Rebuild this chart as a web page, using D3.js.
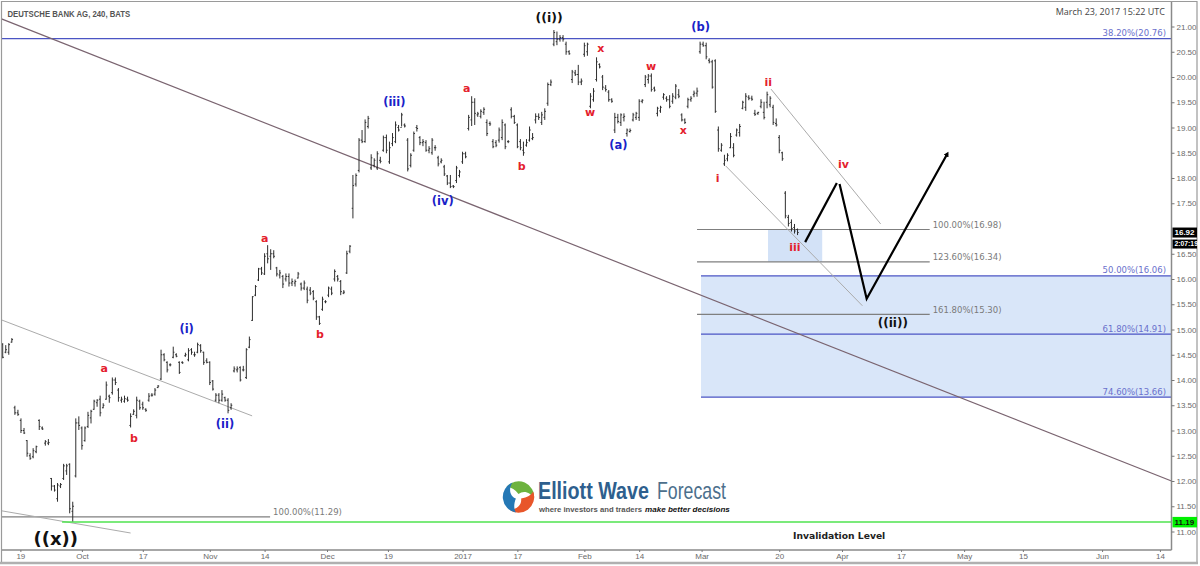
<!DOCTYPE html>
<html>
<head>
<meta charset="utf-8">
<script src="https://cdnjs.cloudflare.com/ajax/libs/d3/7.8.5/d3.min.js"></script>
<style>
    html, body { margin: 0; padding: 0; background: #fff; overflow: hidden; }
    svg { display: block; }
    .axis text { font-family: "Liberation Sans", sans-serif; font-size: 8px; fill: #6a6a6a; }
    .axis line { stroke: #777; }
    .axis path { stroke: #8a8a8a; stroke-width: 1.5px; }
</style>
</head>
<body>
<svg width="1200" height="566"></svg>
<script>
// 240 minute bars, one entry per bar
var highs = [
    14.73,14.69,14.73,14.83,13.49,13.41,13.24,13.05,12.81,12.55,
    12.65,12.70,13.22,13.08,12.81,12.83,12.06,11.92,11.96,11.96,
    12.34,12.34,12.35,11.59,13.24,13.28,13.08,13.08,13.37,13.41,
    13.61,13.62,13.69,13.54,13.97,13.71,14.05,14.05,13.84,13.67,
    13.69,13.67,13.34,13.42,13.67,13.61,13.57,13.44,13.74,13.74,
    13.84,13.90,14.60,14.53,14.37,14.33,14.66,14.53,14.37,14.37,
    14.54,14.63,14.63,14.56,14.74,14.71,14.56,14.43,14.37,14.00,
    13.74,13.74,13.80,13.67,13.64,13.54,14.27,14.27,14.27,14.28,
    14.63,14.86,15.66,15.88,16.22,16.24,16.51,16.67,16.59,16.57,
    16.24,16.18,16.08,16.11,16.11,16.01,15.99,16.14,15.93,15.97,
    15.85,15.84,15.78,15.58,15.27,15.65,15.58,15.85,15.85,16.19,
    16.08,15.98,15.78,16.56,16.67,18.06,18.09,18.79,18.95,19.16,
    19.23,18.47,18.39,18.53,18.42,18.84,18.86,18.72,18.89,19.12,
    19.05,19.29,19.08,18.79,18.49,18.92,19.05,18.83,18.77,18.75,
    18.63,18.79,18.65,18.44,18.39,18.26,18.06,18.06,17.86,18.24,
    18.16,18.52,18.52,19.25,19.62,19.58,19.31,19.36,19.40,19.16,
    19.12,18.77,18.75,19.00,19.16,19.08,18.75,19.40,19.25,19.08,
    18.77,18.72,18.77,19.02,18.89,19.28,19.28,19.31,19.38,19.89,
    19.95,20.93,20.90,20.83,20.83,20.70,20.53,20.14,20.14,20.24,
    19.97,20.68,20.68,19.68,19.78,20.39,20.27,20.04,19.84,19.74,
    19.58,19.29,19.27,19.28,19.28,18.98,18.98,19.29,19.31,19.56,
    19.56,20.04,20.06,20.07,19.81,19.41,19.43,19.68,19.62,19.64,
    19.68,19.86,19.76,19.28,19.18,19.59,19.62,19.73,19.79,20.70,
    20.70,20.68,20.37,20.34,20.35,19.02,18.69,18.46,18.49,18.89,
    18.69,18.98,19.07,19.53,19.68,19.64,19.63,19.35,19.31,19.56,
    19.51,19.71,19.62,19.45,19.18,18.85,18.52,17.74,17.27,17.18,
    17.09,17.00
];
var lows = [
    14.43,14.53,14.50,14.74,13.31,13.29,12.95,12.93,12.48,12.42,
    12.45,12.55,13.01,13.01,12.70,12.71,11.81,11.79,11.59,11.86,
    12.02,12.12,11.36,11.20,12.07,13.01,12.62,12.78,13.05,13.14,
    13.41,13.47,13.28,13.44,13.61,13.55,13.71,13.90,13.57,13.55,
    13.55,13.57,13.06,13.31,13.24,13.41,13.41,13.37,13.57,13.67,
    13.69,13.84,14.00,14.37,14.15,14.27,14.43,14.45,14.12,14.32,
    14.46,14.37,14.50,14.46,14.53,14.54,14.30,14.33,13.90,13.79,
    13.57,13.54,13.57,13.57,13.34,13.41,14.15,14.15,13.97,14.17,
    14.02,14.63,15.17,15.66,15.96,16.08,16.08,16.31,16.18,16.41,
    16.05,16.01,15.82,15.95,15.85,15.86,15.85,16.01,15.77,15.78,
    15.52,15.68,15.58,15.19,15.09,15.37,15.52,15.64,15.68,15.95,
    15.95,15.68,15.70,16.10,16.51,17.20,17.83,18.11,18.69,18.70,
    18.98,18.16,18.21,18.16,18.29,18.52,18.49,18.28,18.63,18.69,
    18.92,19.02,19.00,18.13,18.21,18.52,18.92,18.65,18.63,18.52,
    18.49,18.46,18.54,18.23,18.29,18.04,17.86,17.80,17.80,17.90,
    18.01,18.28,18.39,18.94,19.03,19.05,19.21,19.18,19.25,18.83,
    19.03,18.59,18.61,18.70,18.75,18.57,18.69,19.18,19.07,18.59,
    18.55,18.44,18.62,18.72,18.75,19.08,19.15,19.05,19.15,19.43,
    19.82,20.61,20.63,20.70,20.70,20.44,20.44,19.88,20.02,19.84,
    19.84,20.40,20.42,19.38,19.51,19.91,20.17,19.74,19.71,19.51,
    19.49,18.89,19.08,19.03,19.12,18.82,18.90,19.12,19.15,19.13,
    19.48,19.80,19.87,19.71,19.71,19.22,19.29,19.55,19.51,19.38,
    19.47,19.56,19.58,19.12,19.07,19.38,19.51,19.60,19.61,20.46,
    20.60,20.35,20.27,19.77,19.29,18.52,18.52,18.24,18.33,18.59,
    18.41,18.82,18.82,19.36,19.33,19.54,19.53,19.23,19.25,19.38,
    19.16,19.38,19.40,19.05,19.02,18.49,18.34,17.20,17.04,16.94,
    16.90,16.87
];
var opens = [
    14.70,14.55,14.55,14.75,13.45,13.35,13.20,13.00,12.80,12.50,
    12.48,12.58,13.20,13.05,12.75,12.75,12.05,11.90,11.65,11.90,
    12.05,12.20,12.33,11.40,12.10,13.15,13.05,12.80,13.08,13.25,
    13.42,13.55,13.62,13.45,13.62,13.68,13.75,14.00,13.80,13.60,
    13.58,13.62,13.10,13.32,13.30,13.58,13.52,13.42,13.60,13.70,
    13.72,13.85,14.02,14.50,14.35,14.30,14.45,14.50,14.35,14.35,
    14.48,14.40,14.60,14.50,14.55,14.68,14.55,14.38,14.35,13.98,
    13.60,13.70,13.60,13.65,13.60,13.45,14.18,14.20,14.25,14.20,
    14.05,14.65,15.18,15.68,15.98,16.20,16.10,16.50,16.45,16.50,
    16.22,16.08,16.05,16.00,16.05,15.92,15.92,16.02,15.90,15.82,
    15.80,15.78,15.75,15.55,15.25,15.40,15.55,15.68,15.80,16.00,
    16.05,15.95,15.72,16.12,16.55,17.40,17.88,18.15,18.75,18.72,
    19.02,18.20,18.25,18.20,18.35,18.55,18.80,18.32,18.68,18.72,
    19.00,19.00,19.05,18.75,18.25,18.55,19.00,18.80,18.70,18.70,
    18.55,18.50,18.60,18.40,18.32,18.22,18.04,17.90,17.84,17.95,
    18.05,18.32,18.48,18.98,19.15,19.50,19.25,19.22,19.30,19.10,
    19.08,18.72,18.70,18.75,18.80,19.05,18.72,19.35,19.22,19.05,
    18.72,18.55,18.65,18.75,18.78,19.15,19.22,19.10,19.20,19.48,
    19.85,20.65,20.70,20.75,20.78,20.65,20.50,19.95,20.08,20.05,
    19.90,20.45,20.50,19.42,19.55,19.95,20.25,20.00,19.78,19.70,
    19.55,18.95,19.20,19.10,19.20,18.88,18.92,19.15,19.20,19.20,
    19.52,19.85,19.95,20.02,19.78,19.28,19.33,19.60,19.58,19.55,
    19.52,19.60,19.65,19.25,19.15,19.42,19.55,19.65,19.68,20.50,
    20.65,20.62,20.33,20.30,20.32,18.95,18.55,18.28,18.38,18.60,
    18.60,18.85,18.90,19.38,19.40,19.60,19.58,19.28,19.28,19.42,
    19.30,19.50,19.45,19.40,19.08,18.80,18.50,17.70,17.22,17.12,
    17.02,16.98
];
var closes = [
    14.45,14.60,14.70,14.80,13.35,13.32,13.00,12.95,12.55,12.45,
    12.60,12.68,13.08,13.03,12.78,12.76,11.90,11.82,11.92,11.93,
    12.30,12.30,11.45,11.50,13.15,13.10,12.70,13.05,13.30,13.38,
    13.58,13.60,13.35,13.50,13.90,13.65,14.00,13.95,13.65,13.62,
    13.63,13.60,13.28,13.38,13.60,13.45,13.45,13.40,13.68,13.70,
    13.80,13.88,14.50,14.40,14.20,14.30,14.55,14.47,14.15,14.34,
    14.50,14.58,14.55,14.50,14.70,14.58,14.35,14.35,13.95,13.82,
    13.70,13.60,13.72,13.60,13.40,13.50,14.22,14.22,14.00,14.20,
    14.60,14.80,15.65,15.85,16.20,16.12,16.45,16.40,16.50,16.45,
    16.10,16.12,15.90,16.05,15.92,15.95,15.95,16.10,15.82,15.92,
    15.58,15.72,15.62,15.25,15.12,15.60,15.55,15.82,15.72,16.15,
    16.00,15.75,15.74,16.50,16.65,17.85,18.05,18.75,18.72,19.10,
    19.18,18.40,18.35,18.48,18.33,18.80,18.55,18.60,18.80,19.05,
    18.95,19.25,19.03,18.18,18.45,18.88,18.98,18.70,18.72,18.55,
    18.58,18.75,18.60,18.28,18.35,18.08,17.90,17.83,17.83,18.20,
    18.12,18.48,18.42,19.20,19.50,19.28,19.27,19.32,19.36,18.88,
    19.07,18.62,18.65,18.95,19.10,18.62,18.72,19.22,19.10,18.62,
    18.60,18.50,18.70,18.95,18.80,19.22,19.20,19.25,19.32,19.85,
    19.90,20.88,20.75,20.78,20.75,20.50,20.46,20.10,20.05,19.90,
    19.92,20.62,20.65,19.62,19.72,20.30,20.20,19.80,19.75,19.55,
    19.52,19.20,19.12,19.25,19.22,18.95,18.94,19.25,19.28,19.52,
    19.54,20.00,20.02,19.75,19.74,19.38,19.40,19.65,19.55,19.42,
    19.62,19.82,19.62,19.15,19.10,19.55,19.58,19.68,19.72,20.65,
    20.62,20.40,20.30,19.80,19.32,18.58,18.65,18.35,18.45,18.82,
    18.45,18.95,19.02,19.50,19.62,19.58,19.56,19.26,19.30,19.50,
    19.20,19.65,19.58,19.10,19.05,18.55,18.38,17.25,17.10,17.00,
    16.95,16.92
];

// y axis and time axis labels (17.00 sits behind the last price tag)
var priceTicks = [11,11.5,12,12.5,13,13.5,14,14.5,15,15.5,16,16.5,17.5,18,18.5,19,19.5,20,20.5,21];
var timeTickBars = [5.8,26,46,68,86,106.5,126.5,151,169,191,209,229.5,255,275.6,295,315.7,335,361,380];
var timeTickLabels = ["19","Oct","17","Nov","14","Dec","19","2017","17","Feb","14","Mar","20","Apr","17","May","15","Jun","14"];

// price levels: [label, price, first bar]
var blueLevels = [["38.20%(20.76)",20.76,-0.4],["50.00%(16.06)",16.06,229.3],["61.80%(14.91)",14.91,229.3],["74.60%(13.66)",13.66,229.3]];
var grayLevels = [["100.00%(16.98)",16.98,228,304.4],["123.60%(16.34)",16.34,228,304.4],["161.80%(15.30)",15.30,228,304.4],["100.00%(11.29)",11.29,-0.4,87.8]];
var invalidationPrice = 11.19;

// trend lines as [bar, price, bar, price]
var mainTrend = [-0.4,21.15,383.8,12.0];
var thinTrends = [[-0.4,15.19,81.9,13.29],[-0.4,11.41,42,10.97],[252.3,19.76,288.3,17.09],[237.4,18.24,282.3,15.47]];
var pathA = [[263.5,16.73],[273.9,17.90]];
var pathB = [[274.8,17.88],[283.7,15.61],[310.2,18.48]];

// wave labels [text, bar, price]
var redLabels = [["a",33.3,14.23],["b",43.1,12.85],["a",86,16.81],["b",104.2,14.90],["a",152.4,19.78],["b",170.4,18.24],["w",192.9,19.31],["x",196.4,20.57],["w",212.9,20.22],["x",223.5,18.94],["i",234.8,17.99],["ii",251.4,19.90],["iii",260.1,16.63],["iv",276.1,18.28]];
var blueLabels = [["(i)",60.4,15.01],["(ii)",73,13.13],["(iii)",128.6,19.51],["(iv)",144.5,17.54],["(a)",202.2,18.65],["(b)",229.2,21.0]];
var blackLabels = [["((i))",179.4,21.17,12.5],["((ii))",292.3,15.13,12],["((x))",17.4,10.85,18]];

var svg = d3.select("svg"),
    plotRight = 1171.5,
    plotBottom = 550,
    g = svg.append("g");

var x = d3.scaleLinear().domain([0, 383.8]).range([2.7, plotRight]);
var y = d3.scaleLinear().domain([11, 21]).range([531.5, 26.5]);

var line = d3.line()
    .x(function (d) { return x(d[0]); })
    .y(function (d) { return y(d[1]); });

// target zones
g.append("rect")
    .attr("x", x(229.3))
    .attr("y", y(16.06))
    .attr("width", plotRight - x(229.3))
    .attr("height", y(13.66) - y(16.06))
    .attr("fill", "#d9e6f9");
g.append("rect")
    .attr("x", x(251.3))
    .attr("y", y(16.98))
    .attr("width", x(269.1) - x(251.3))
    .attr("height", y(16.34) - y(16.98))
    .attr("fill", "#d3e2f7");

// gray fib levels
g.selectAll(".gray-level")
    .data(grayLevels)
    .enter().append("line")
    .attr("class", "gray-level")
    .attr("x1", function (d) { return x(d[2]); })
    .attr("x2", function (d) { return x(d[3]); })
    .attr("y1", function (d) { return y(d[1]); })
    .attr("y2", function (d) { return y(d[1]); })
    .attr("stroke", "#7f7f7f")
    .attr("stroke-width", 1.2);
g.selectAll(".gray-text")
    .data(grayLevels)
    .enter().append("text")
    .attr("x", function (d) { return x(d[3]) + 3; })
    .attr("y", function (d) { return y(d[1]) - 1.5; })
    .attr("font-family", "DejaVu Sans")
    .attr("font-size", 8.5)
    .attr("fill", "#7a7a7a")
    .text(function (d) { return d[0]; });

// blue fib levels
g.selectAll(".blue-level")
    .data(blueLevels)
    .enter().append("line")
    .attr("class", "blue-level")
    .attr("x1", function (d) { return x(d[2]); })
    .attr("x2", plotRight)
    .attr("y1", function (d) { return y(d[1]); })
    .attr("y2", function (d) { return y(d[1]); })
    .attr("stroke", "#4b55c4")
    .attr("stroke-width", 1.2);
g.selectAll(".blue-text")
    .data(blueLevels)
    .enter().append("text")
    .attr("x", plotRight - 5.5)
    .attr("y", function (d) { return y(d[1]) - 2.5; })
    .attr("text-anchor", "end")
    .attr("font-family", "DejaVu Sans")
    .attr("font-size", 8.5)
    .attr("fill", "#6a70cc")
    .text(function (d) { return d[0]; });

// trend lines
g.append("line")
    .attr("x1", x(mainTrend[0])).attr("y1", y(mainTrend[1]))
    .attr("x2", x(mainTrend[2])).attr("y2", y(mainTrend[3]))
    .attr("stroke", "#7a6470")
    .attr("stroke-width", 1.2);
g.selectAll(".thin-trend")
    .data(thinTrends)
    .enter().append("line")
    .attr("class", "thin-trend")
    .attr("x1", function (d) { return x(d[0]); })
    .attr("y1", function (d) { return y(d[1]); })
    .attr("x2", function (d) { return x(d[2]); })
    .attr("y2", function (d) { return y(d[3]); })
    .attr("stroke", "#ababab")
    .attr("stroke-width", 1);

// green invalidation line
g.append("line")
    .attr("x1", x(19.5))
    .attr("x2", plotRight)
    .attr("y1", y(invalidationPrice))
    .attr("y2", y(invalidationPrice))
    .attr("stroke", "#4fe34f")
    .attr("stroke-width", 1.5);

// price bars
var bars = g.selectAll(".bar")
    .data(highs)
    .enter().append("g")
    .attr("class", "bar")
    .attr("stroke", "#2e2e2e")
    .attr("stroke-width", 1);
bars.append("line")
    .attr("x1", function (d, i) { return x(i); })
    .attr("x2", function (d, i) { return x(i); })
    .attr("y1", function (d) { return y(d); })
    .attr("y2", function (d, i) { return y(lows[i]); });
bars.append("line")
    .attr("x1", function (d, i) { return x(i) - 1.2; })
    .attr("x2", function (d, i) { return x(i); })
    .attr("y1", function (d, i) { return y(opens[i]); })
    .attr("y2", function (d, i) { return y(opens[i]); });
bars.append("line")
    .attr("x1", function (d, i) { return x(i); })
    .attr("x2", function (d, i) { return x(i) + 1.2; })
    .attr("y1", function (d, i) { return y(closes[i]); })
    .attr("y2", function (d, i) { return y(closes[i]); });

// projected path
svg.append("defs").append("marker")
    .attr("id", "tip")
    .attr("markerWidth", 3)
    .attr("markerHeight", 3)
    .attr("refX", 1.2)
    .attr("refY", 1.25)
    .attr("orient", "auto")
    .append("path")
    .attr("d", "M0,0L2.2,1.25L0,2.5Z")
    .attr("fill", "#000");
g.append("path")
    .attr("d", line(pathA))
    .attr("fill", "none")
    .attr("stroke", "#000")
    .attr("stroke-width", 2.2);
g.append("path")
    .attr("d", line(pathB))
    .attr("fill", "none")
    .attr("stroke", "#000")
    .attr("stroke-width", 2.2)
    .attr("marker-end", "url(#tip)");

// wave labels
function wave_labels(cls, rows, color, size) {
    g.selectAll("." + cls)
        .data(rows)
        .enter().append("text")
        .attr("class", cls)
        .attr("x", function (d) { return x(d[1]); })
        .attr("y", function (d) { return y(d[2]); })
        .attr("dy", "0.35em")
        .attr("text-anchor", "middle")
        .attr("font-family", "DejaVu Sans")
        .attr("font-weight", "bold")
        .attr("font-size", function (d) { return d[3] || size; })
        .attr("fill", color)
        .text(function (d) { return d[0]; });
}
wave_labels("red-label", redLabels, "#e4202c", 11);
wave_labels("blue-label", blueLabels, "#1a22c8", 11.5);
wave_labels("black-label", blackLabels, "#111", 12);

g.append("text")
    .attr("x", 793)
    .attr("y", 538.5)
    .attr("font-family", "DejaVu Sans")
    .attr("font-weight", "bold")
    .attr("font-size", 9.2)
    .attr("fill", "#222")
    .text("Invalidation Level");

// axes
var yAxis = svg.append("g")
    .attr("class", "axis")
    .attr("transform", "translate(" + plotRight + ",0)")
    .call(d3.axisRight(y).tickValues(priceTicks).tickSize(3).tickPadding(2).tickFormat(d3.format(".2f")));
yAxis.select(".domain").attr("d", "M0,1V" + plotBottom);
var xAxis = svg.append("g")
    .attr("class", "axis")
    .attr("transform", "translate(0," + plotBottom + ")")
    .call(d3.axisBottom(x).tickValues(timeTickBars).tickSize(2).tickPadding(1.5)
        .tickFormat(function (d, i) { return timeTickLabels[i]; }));
xAxis.select(".domain").attr("d", "M1.5,0H" + plotRight);

// frame
svg.append("path")
    .attr("d", "M1.5,563V1.5H1197V563")
    .attr("fill", "none")
    .attr("stroke", "#9a9a9a")
    .attr("stroke-width", 1.2);
svg.append("line")
    .attr("x1", 0).attr("x2", 1198).attr("y1", 563).attr("y2", 563)
    .attr("stroke", "#b0b0b0")
    .attr("stroke-width", 2.5);

// price tags on the axis
function price_tag(top, h, fill, color, label, size) {
    svg.append("rect")
        .attr("x", plotRight + 1)
        .attr("y", top)
        .attr("width", 1197 - plotRight - 1)
        .attr("height", h)
        .attr("fill", fill);
    svg.append("text")
        .attr("x", plotRight + 3)
        .attr("y", top + h / 2)
        .attr("dy", "0.35em")
        .attr("font-family", "Liberation Sans")
        .attr("font-weight", "bold")
        .attr("font-size", size)
        .attr("fill", color)
        .text(label);
}
price_tag(y(closes[closes.length - 1]) - 5, 10, "#000", "#fff", "16.92", 8);
price_tag(y(closes[closes.length - 1]) + 7, 9, "#000", "#fff", "2:07:19", 6.8);
price_tag(y(invalidationPrice) - 5, 10.5, "#00f000", "#111", "11.19", 8);

// stretch a text to a width by scaling it, so its box is the drawn width
function fit_text(label, left, base, width, size, weight, style, color) {
    var t = svg.append("text")
        .attr("font-family", "Liberation Sans")
        .attr("font-weight", weight)
        .attr("font-style", style)
        .attr("font-size", size)
        .attr("fill", color)
        .text(label);
    var natural = t.node().getComputedTextLength();
    t.attr("transform", "translate(" + left + "," + base + ") scale(" + (width / natural) + ",1)");
}

// titles
fit_text("DEUTSCHE BANK AG, 240, BATS", 7.5, 16.5, 123, 9.5, "bold", "normal", "#555");
svg.append("text")
    .attr("x", 1165)
    .attr("y", 15)
    .attr("text-anchor", "end")
    .attr("font-family", "Open Sans")
    .attr("font-size", 9)
    .attr("fill", "#444")
    .text("March 23, 2017 15:22 UTC");

// logo
var logo = svg.append("g").attr("transform", "translate(518.5,497)");
var swirlColors = ["#6db33f", "#e8562a", "#2578b5"];
logo.selectAll("path")
    .data(swirlColors)
    .enter().append("path")
    .attr("d", "M-12,-10A15.6,15.6 0 0 1 15.5,2C12,-5 5,-7 0,-3C-4,-8 -8,-10 -12,-10Z")
    .attr("transform", function (d, i) { return "rotate(" + (i * 120) + ")"; })
    .attr("fill", function (d) { return d; });
fit_text("Elliott Wave", 538, 499.2, 111, 23, "bold", "normal", "#2e5f8e");
fit_text("Forecast", 657, 499.2, 69, 23, "normal", "normal", "#4c6f8c");
fit_text("where investors and traders", 539, 511.5, 103, 8, "bold", "normal", "#555");
fit_text("make better decisions", 645, 511.5, 85, 8, "bold", "italic", "#111");
</script>
</body>
</html>
